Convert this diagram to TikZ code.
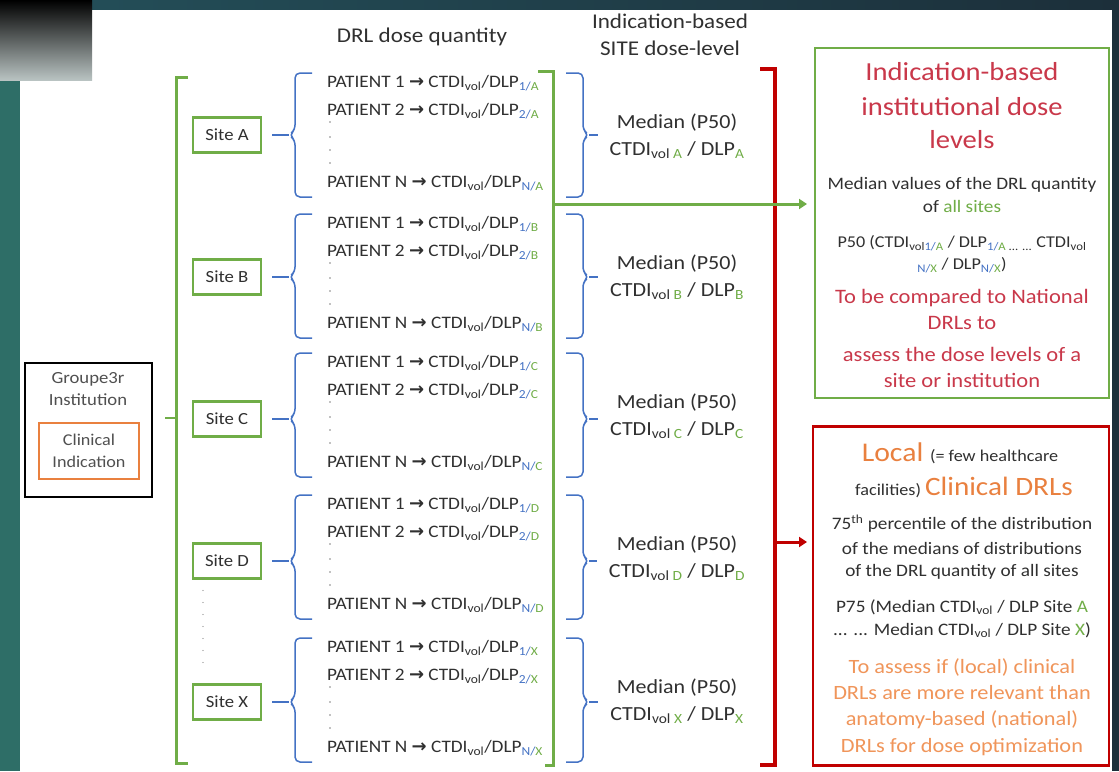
\documentclass[tikz,border=0pt]{standalone}
\usepackage{fontspec}
\setmainfont{Carlito}[FakeStretch=1.1]
\newfontfamily\arrowfont{DejaVu Sans}
\usetikzlibrary{arrows.meta}
\definecolor{gr}{HTML}{70AD47}
\definecolor{bl}{HTML}{4472C4}
\definecolor{rd}{HTML}{C00000}
\definecolor{tr}{HTML}{C9384A}
\definecolor{orn}{HTML}{E9803F}
\definecolor{orl}{HTML}{F0955A}
\definecolor{txt}{HTML}{303030}
\definecolor{gtx}{HTML}{505050}
\definecolor{tealA}{HTML}{2E6E67}
\definecolor{tealB}{HTML}{24505A}
\definecolor{navy}{HTML}{1C2F3A}
\newcommand\subc[2]{\textsubscript{\textcolor{bl}{#1/}\textcolor{gr}{#2}}}
\newcommand\patline[3]{PATIENT #1 {\arrowfont\bfseries\fontsize{18}{18}\selectfont →} CTDI\textsubscript{vol}/DLP\subc{#2}{#3}}
\begin{document}
\begin{tikzpicture}[x=1pt,y=-1pt,
  every node/.style={inner sep=0pt, outer sep=0pt, text=txt},
  pat/.style={anchor=west, font=\fontsize{17.5}{18}\selectfont},
  med/.style={font=\fontsize{20}{27}\selectfont, align=center},
  sitebox/.style={draw=gr, line width=2.5pt, minimum width=68pt, minimum height=35pt, font=\fontsize{17}{18}\selectfont},
  brace/.style={draw=bl, line width=1.5pt, rounded corners=5pt},
  gline/.style={draw=gr, line width=3pt},
  rline/.style={draw=rd, line width=3.5pt},
  hdr/.style={font=\fontsize{21}{27}\selectfont},
  ttl/.style={text=tr, font=\fontsize{26}{34}\selectfont},
  body/.style={font=\fontsize{17.5}{20}\selectfont},
  rbody/.style={text=tr, font=\fontsize{20.5}{24}\selectfont},
  obody/.style={text=orl, font=\fontsize{20.3}{24}\selectfont},
]
\useasboundingbox (0,0) rectangle (1119,771);
% background
\fill[tealA] (0,0) rectangle (1119,771);
\shade[left color=tealB, right color=navy] (0,0) rectangle (1119,10);
\fill[navy] (1112,0) rectangle (1119,771);
\fill[white] (20,10) rectangle (1112,771);
\shade[top color=black, bottom color=tealA!35!gray!45] (0,0) rectangle (92,80);

% headers
\node[hdr] (hq) at (422,37) {DRL dose quantity};
\node[hdr, align=center] (hs) at (670,35) {Indication-based\\SITE dose-level};

% institution
\node[draw=black, line width=2.5pt, minimum width=127pt, minimum height=134pt] (inst) at (88.5,430) {};
\node[text=gtx, font=\fontsize{17}{18}\selectfont] (g3r) at (88,379) {Groupe3r};
\node[text=gtx, font=\fontsize{17}{18}\selectfont] (ins) at (88,400) {Institution};
\node[draw=orn, line width=2pt, minimum width=100pt, minimum height=56pt, align=center, font=\fontsize{16.5}{22}\selectfont, text=gtx] (ci) at (89,451) {Clinical\\Indication};

% big left bracket
\draw[gline] (188,77) -- (176,77) -- (176,763) -- (188,763);
\draw[gr, line width=2.5pt] ([xshift=13pt]inst.east |- 0,418) -- (176,418);

% sites
\foreach \L/\y/\s in {A/83/135, B/224/277, C/363/419, D/505/561, X/648/702} {
  \node[sitebox] (site\L) at (227,\s) {Site \L};
  \draw[brace] (312,\y-10) -- (295,\y-10) -- (295,\s-5) -- (289,\s) -- (295,\s+5) -- (295,\y+114) -- (312,\y+114);
  \draw[bl, line width=1.5pt] ([xshift=11pt]site\L.east) -- (289,\s);
  \node[pat] (p1\L) at (327,\y) {\patline{1}{1}{\L}};
  \node[pat] (p2\L) at (327,\y+28) {\patline{2}{2}{\L}};
  \node[pat] (pN\L) at (327,\y+100) {\patline{N}{N}{\L}};
  \foreach \d in {39,54,67,80} \fill[gtx!70] (330,\y+\d) circle (0.9pt);
  \draw[brace] (566,\y-10) -- (583,\y-10) -- (583,\s-5) -- (589,\s) -- (583,\s+5) -- (583,\y+114) -- (566,\y+114);
  \node[med] (med\L) at (677,\y+53) {Median (P50)\\CTDI\textsubscript{vol \textcolor{gr}{\L}} / DLP\textsubscript{\textcolor{gr}{\L}}};
  \draw[bl, line width=1.5pt] (589,\s) -- ([xshift=-12pt]med\L.west |- 0,\s);
}
\draw[gtx!70, line width=1.2pt, line cap=round, dash pattern=on 0pt off 12pt] (siteD.south -| 203,590) -- (203,672);

% right boxes
\node[draw=gr, line width=2.5pt, minimum width=294pt, minimum height=350pt] (gbox) at (962,223) {};
\node[draw=rd, line width=2.5pt, minimum width=296pt, minimum height=339pt] (rbox) at (961,596) {};

% red bracket and arrow
\draw[rline] (760,69) -- (775,69) -- (775,765) -- (760,765);
\coordinate (rsrc) at (775,542);
\draw[rd, line width=3pt, -{Triangle[length=8pt,width=10pt]}, shorten >=6pt] (rsrc) -- (rsrc -| rbox.west);

% green bracket and arrow
\draw[gline] (538,71) -- (553,71) -- (553,765) -- (545,765);
\coordinate (gsrc) at (553,204);
\draw[gr, line width=3pt, -{Triangle[length=8pt,width=10pt]}, shorten >=8pt] (gsrc) -- (gsrc -| gbox.west);

% green box text
\node[ttl] (t1) at (962,72) {Indication-based};
\node[ttl] (t2) at (962,107) {institutional dose};
\node[ttl] (t3) at (962,140) {levels};
\node[body] (b1) at (962,185) {Median values of the DRL quantity};
\node[body] (b2) at (962,206) {of \textcolor{gr}{all sites}};
\node[body, font=\fontsize{16.5}{18}\selectfont] (b3) at (962,243) {P50 (CTDI\textsubscript{vol\textcolor{bl}{1/}\textcolor{gr}{A}} / DLP\textsubscript{\textcolor{bl}{1/}\textcolor{gr}{A} ... ...} CTDI\textsubscript{vol}};
\node[body, font=\fontsize{16.5}{18}\selectfont] (b4) at (962,265) {\textsubscript{\textcolor{bl}{N/}\textcolor{gr}{X}} / DLP\textsubscript{\textcolor{bl}{N/}\textcolor{gr}{X}})};
\node[rbody] (r1) at (962,298) {To be compared to National};
\node[rbody] (r2) at (962,323) {DRLs to};
\node[rbody] (r3) at (962,354) {assess the dose levels of a};
\node[rbody] (r4) at (962,380) {site or institution};

% red box text
\node (l1) at (960,453) {\fontsize{27}{30}\selectfont\textcolor{orn}{Local} \fontsize{16.5}{18}\selectfont(= few healthcare};
\node (l2) at (964,487) {\fontsize{16.5}{18}\selectfont facilities) \fontsize{26.5}{30}\selectfont\textcolor{orn}{Clinical DRLs}};
\node[body] (c1) at (962,524) {75\textsuperscript{th} percentile of the distribution};
\node[body] (c2) at (962,548) {of the medians of distributions};
\node[body] (c3) at (962,572) {of the DRL quantity of all sites};
\node[body] (c4) at (962,607) {P75 (Median CTDI\textsubscript{vol} / DLP Site \textcolor{gr}{A}};
\node[body] (c5) at (962,630) {... ... Median CTDI\textsubscript{vol} / DLP Site \textcolor{gr}{X})};
\node[obody] (o1) at (962,667) {To assess if (local) clinical};
\node[obody] (o2) at (962,693) {DRLs are more relevant than};
\node[obody] (o3) at (962,720) {anatomy-based (national)};
\node[obody] (o4) at (962,747) {DRLs for dose optimization};
\end{tikzpicture}
\end{document}
